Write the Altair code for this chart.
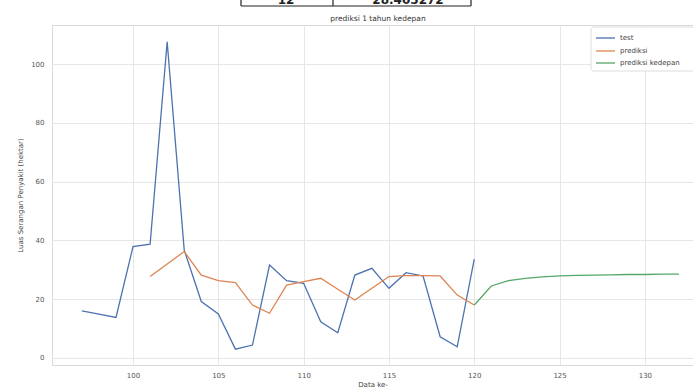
import altair as alt
import pandas as pd

# Observed series (test)
test_x = list(range(97, 121))
test_y = [16.0, 14.9, 13.8, 37.9, 38.7, 107.6, 36.7, 19.2, 15.0, 3.0, 4.4, 31.6,
          26.3, 25.4, 12.3, 8.6, 28.2, 30.5, 23.7, 29.0, 27.9, 7.2, 3.8, 33.6]

# Model predictions on the test range
pred_x = list(range(101, 121))
pred_y = [27.7, 32.0, 36.2, 28.2, 26.3, 25.6, 18.0, 15.2, 24.8, 26.0,
          27.1, 23.4, 19.7, 23.7, 27.7, 28.0, 28.0, 27.9, 21.4, 18.0]

# One-year-ahead forecast
fut_x = list(range(120, 133))
fut_y = [18.0, 24.5, 26.3, 27.1, 27.6, 27.9, 28.1, 28.2, 28.3, 28.4, 28.4, 28.5, 28.5]

series_names = ["test", "prediksi", "prediksi kedepan"]
series_colors = ["#4c72b0", "#dd8452", "#55a868"]

x_ticks = [100, 105, 110, 115, 120, 125, 130]
y_ticks = [0, 20, 40, 60, 80, 100]

title_text = "prediksi 1 tahun kedepan"
x_title = "Data ke-"
y_title = "Luas Serangan Penyakit (hektar)"

table_row = ["12", "28.405272"]

df = pd.concat([
    pd.DataFrame({"x": test_x, "y": test_y, "seri": series_names[0]}),
    pd.DataFrame({"x": pred_x, "y": pred_y, "seri": series_names[1]}),
    pd.DataFrame({"x": fut_x, "y": fut_y, "seri": series_names[2]}),
])

W, H = 641, 340
OX, OY = 52, 25          # plot-area origin inside the page
FONT = "DejaVu Sans"

color_scale = alt.Scale(domain=series_names, range=series_colors)

lines = alt.Chart(df).mark_line(strokeWidth=1.3, clip=True).encode(
    x=alt.X("x:Q",
            scale=alt.Scale(domain=[95.25, 132.82], nice=False, zero=False),
            axis=alt.Axis(values=x_ticks, title=x_title, grid=True, ticks=False,
                          domain=False, labelPadding=6, titlePadding=2,
                          labelFontSize=7, titleFontSize=7)),
    y=alt.Y("y:Q",
            scale=alt.Scale(domain=[-2.4, 113.3], nice=False, zero=False),
            axis=alt.Axis(values=y_ticks, title=y_title, grid=True, ticks=False,
                          domain=False, labelPadding=8, titlePadding=7,
                          labelFontSize=7, titleFontSize=7)),
    color=alt.Color("seri:N", scale=color_scale, legend=None),
    detail="seri:N",
)

one = pd.DataFrame({"k": [0]})

title = alt.Chart(one).mark_text(fontSize=7.5, color="#333", font=FONT).encode(
    x=alt.value(378 - OX), y=alt.value(19 - OY), text=alt.value(title_text))

# legend box in the upper right corner
leg_rows = pd.DataFrame({
    "seri": series_names,
    "ly": [38 - OY, 51 - OY, 63 - OY],
})
leg_box = alt.Chart(one).mark_rect(
    fill="white", stroke="#dddddd", strokeWidth=1, cornerRadius=3
).encode(x=alt.value(591 - OX), x2=alt.value(700 - OX),
         y=alt.value(27 - OY), y2=alt.value(71 - OY))
leg_lines = alt.Chart(leg_rows).mark_rule(strokeWidth=1.3).encode(
    x=alt.value(596 - OX), x2=alt.value(615 - OX),
    y=alt.Y("ly:Q", scale=None),
    color=alt.Color("seri:N", scale=color_scale, legend=None))
leg_text = alt.Chart(leg_rows).mark_text(
    align="left", baseline="middle", fontSize=7, color="#444", font=FONT
).encode(x=alt.value(620 - OX), y=alt.Y("ly:Q", scale=None), text="seri:N")

# fragment of the table sitting above the figure
tbl_rules = alt.Chart(pd.DataFrame({
    "x1": [241 - OX, 333 - OX, 471 - OX, 241 - OX],
    "x2": [241 - OX, 333 - OX, 471 - OX, 471 - OX],
    "y1": [-30, -30, -30, 6 - OY],
    "y2": [6 - OY, 6 - OY, 6 - OY, 6 - OY],
})).mark_rule(color="#222", strokeWidth=1.2).encode(
    x=alt.X("x1:Q", scale=None), x2="x2:Q",
    y=alt.Y("y1:Q", scale=None), y2="y2:Q")

tbl_text = alt.Chart(pd.DataFrame({
    "x": [286 - OX, 408 - OX], "t": table_row})).mark_text(
    fontSize=12, fontWeight="bold", color="#222", font=FONT, baseline="alphabetic"
).encode(x=alt.X("x:Q", scale=None), y=alt.value(4 - OY), text="t:N")

chart = alt.layer(lines, title, leg_box, leg_lines, leg_text,
                  tbl_rules, tbl_text).properties(
    width=W, height=H,
    autosize=alt.AutoSizeParams(type="none"),
    padding={"left": OX, "top": OY, "right": 0, "bottom": 23},
).configure_view(stroke="#d9d9d9", strokeWidth=1).configure_axis(
    gridColor="#e6e6e6", gridWidth=1, labelColor="#555", titleColor="#444",
    labelFont=FONT, titleFont=FONT, titleFontWeight="normal",
)

chart.save("out.html", embed_options={"renderer": "svg", "actions": False})
